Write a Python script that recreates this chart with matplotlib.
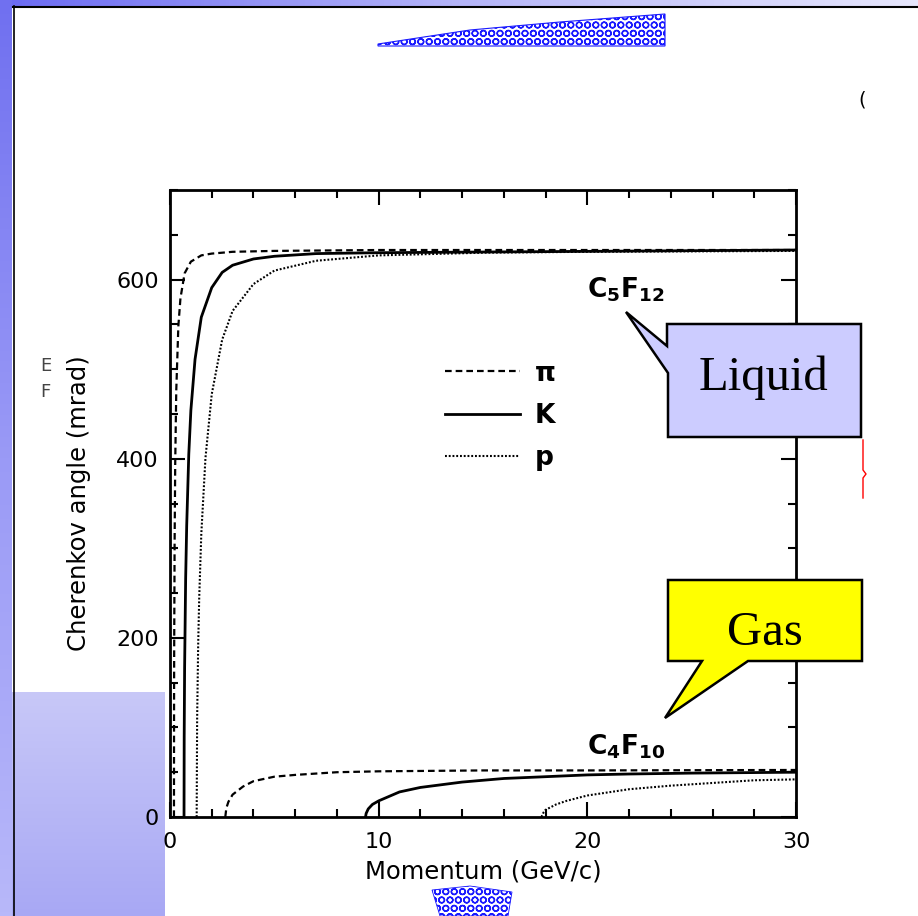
import numpy as np
import matplotlib
matplotlib.use("Agg")
import matplotlib.pyplot as plt
from matplotlib.patches import Polygon, Rectangle
from matplotlib.ticker import MultipleLocator

# ---- Cherenkov angle vs momentum (mrad), liquid C5F12 and gas C4F10 ----
pi_liq_p = [0.190, 0.195, 0.20, 0.22, 0.25, 0.30, 0.40, 0.50, 0.70, 1.0, 1.5, 2.0, 3.0, 5.0, 10, 30]
pi_liq_t = [0, 133, 185, 303, 395, 476, 548, 579, 607, 620, 627, 629, 631, 632, 633, 633]

k_liq_p = [0.672, 0.68, 0.70, 0.75, 0.80, 0.90, 1.0, 1.2, 1.5, 2.0, 2.5, 3.0, 4.0, 5.0, 7.0, 10, 30]
k_liq_t = [0, 89, 166, 266, 325, 405, 454, 511, 558, 591, 608, 616, 623, 626, 629, 630, 633]

p_liq_p = [1.278, 1.30, 1.35, 1.40, 1.50, 1.70, 2.0, 2.5, 3.0, 4.0, 5.0, 7.0, 10, 15, 20, 30]
p_liq_t = [0, 109, 192, 245, 316, 401, 472, 533, 565, 595, 610, 621, 627, 630, 631, 632]

pi_gas_p = [2.65, 2.70, 2.80, 3.0, 3.5, 4, 5, 6, 8, 10, 15, 20, 30]
pi_gas_t = [0, 10, 17, 25, 34, 40, 45, 47, 50, 51, 52, 52, 52.5]

k_gas_p = [9.37, 9.4, 9.5, 9.7, 10, 11, 12, 14, 16, 18, 20, 22, 25, 30]
k_gas_t = [0, 4, 9, 14, 18, 28, 33, 39, 43, 45, 47, 48, 49, 50]

p_gas_p = [17.8, 17.9, 18, 18.5, 19, 20, 22, 24, 26, 28, 30]
p_gas_t = [0, 5, 8, 14, 18, 24, 31, 35, 38, 41, 42]

particles = ["\u03c0", "K", "p"]
x_ticks = [0, 10, 20, 30]
y_ticks = [0, 200, 400, 600]

W, H = 918, 916
fig = plt.figure(figsize=(W / 100, H / 100), dpi=100)
fig.patch.set_facecolor("white")

# ---- slide background layer (pixel coordinates) ----
bg = fig.add_axes([0, 0, 1, 1], zorder=0)
bg.set_xlim(0, W)
bg.set_ylim(H, 0)
bg.axis("off")

# top band
top_grad = np.linspace(0, 1, 256).reshape(1, -1)
top_cmap = matplotlib.colors.LinearSegmentedColormap.from_list(
    "topband", ["#6a6af2", "#b4b4f8", "#e6e6fc"])
bg.imshow(top_grad, extent=(0, W, 6, 0), cmap=top_cmap, aspect="auto", zorder=1)
# lower-left lavender area
ll_grad = np.linspace(0, 1, 256).reshape(-1, 1)
ll_cmap = matplotlib.colors.LinearSegmentedColormap.from_list(
    "lowleft", ["#c8c8f8", "#a8a8f4"])
bg.imshow(ll_grad, extent=(0, 165, H, 692), cmap=ll_cmap, aspect="auto", zorder=1)
# left band
left_grad = np.linspace(0, 1, 256).reshape(-1, 1)
left_cmap = matplotlib.colors.LinearSegmentedColormap.from_list(
    "leftband", ["#7070f0", "#9a9af6", "#b8b8fa"])
bg.imshow(left_grad, extent=(0, 12, H, 0), cmap=left_cmap, aspect="auto", zorder=2)
bg.text(40, 366, "E", fontsize=13, color="#444444", ha="left", va="center", zorder=3)
bg.text(40, 392, "F", fontsize=13, color="#444444", ha="left", va="center", zorder=3)
# frame lines
bg.plot([13, W], [6.5, 6.5], color="black", lw=1.5, zorder=3)
bg.plot([13.5, 13.5], [6, H], color="black", lw=1.2, zorder=3)

# blue picture fragments
bg.add_patch(Polygon([(378, 44), (470, 30), (560, 22), (665, 14), (665, 46), (378, 46)],
                     closed=True, facecolor="white", edgecolor="#1a1aff", hatch="OO",
                     lw=0.8, zorder=2))
bg.add_patch(Polygon([(432, 890), (470, 886), (512, 892), (508, 916), (440, 916)],
                     closed=True, facecolor="white", edgecolor="#1a1aff", hatch="OO",
                     lw=0.6, zorder=2))
bg.text(862, 100, "(", fontsize=14, color="black", ha="center", va="center", zorder=3)
bg.plot([863, 863, 866, 863, 863], [440, 470, 474, 478, 498], color="red", lw=1.0, zorder=3)

# ---- main plot ----
ax_l = 170 / W
ax_b = (H - 817) / H
ax = fig.add_axes([ax_l, ax_b, (796 - 170) / W, (817 - 190) / H], zorder=1)
ax.set_facecolor("white")

dash_pi = (0, (3.0, 1.8))
dot_p = (0, (0.9, 0.9))
ax.plot(pi_liq_p, pi_liq_t, color="black", lw=1.6, ls=dash_pi, label=particles[0])
ax.plot(k_liq_p, k_liq_t, color="black", lw=2.0, ls="-", label=particles[1])
ax.plot(p_liq_p, p_liq_t, color="black", lw=1.5, ls=dot_p, label=particles[2])
ax.plot(pi_gas_p, pi_gas_t, color="black", lw=1.6, ls=dash_pi)
ax.plot(k_gas_p, k_gas_t, color="black", lw=2.0, ls="-")
ax.plot(p_gas_p, p_gas_t, color="black", lw=1.5, ls=dot_p)

ax.set_xlim(0, 30)
ax.set_ylim(0, 700)
ax.set_xticks(x_ticks)
ax.set_yticks(y_ticks)
ax.xaxis.set_minor_locator(MultipleLocator(2))
ax.yaxis.set_minor_locator(MultipleLocator(50))
ax.tick_params(which="both", direction="in", top=True, right=True, width=1.5, colors="black")
ax.tick_params(which="major", length=11, labelsize=16)
ax.tick_params(which="minor", length=6)
ax.tick_params(axis="x", which="major", pad=11)
ax.tick_params(axis="y", which="major", pad=8)
for s in ax.spines.values():
    s.set_linewidth(2.0)

ax.set_xlabel("Momentum (GeV/c)", fontsize=17.5, labelpad=5)
ax.set_ylabel("Cherenkov angle (mrad)", fontsize=17.5, labelpad=18)

leg = ax.legend(loc="upper left", bbox_to_anchor=(0.439, 0.728), frameon=False,
                prop={"size": 19, "weight": "bold"}, handlelength=2.85,
                handletextpad=0.55, labelspacing=0.62, borderaxespad=0, borderpad=0)

matplotlib.rcParams["mathtext.fontset"] = "dejavusans"
ax.text(20.0, 589, r"$\mathbf{C_5F_{12}}$", fontsize=19, ha="left", va="center")
ax.text(20.0, 78, r"$\mathbf{C_4F_{10}}$", fontsize=19, ha="left", va="center")

# ---- callouts on top ----
ov = fig.add_axes([0, 0, 1, 1], zorder=3)
ov.set_xlim(0, W)
ov.set_ylim(H, 0)
ov.axis("off")
ov.patch.set_alpha(0)

liquid = [(667, 324), (861, 324), (861, 437), (668, 437), (668, 373), (626, 312), (667, 346)]
ov.add_patch(Polygon(liquid, closed=True, facecolor="#ccccff", edgecolor="black", lw=1.8))
ov.text(764, 390, "Liquid", fontsize=35, family="Liberation Serif", ha="center",
        va="baseline", color="black")

gas = [(668, 580), (862, 580), (862, 661), (748, 661), (665, 718), (702, 661), (668, 661)]
ov.add_patch(Polygon(gas, closed=True, facecolor="#ffff00", edgecolor="black", lw=1.8))
ov.text(765, 645, "Gas", fontsize=35, family="Liberation Serif", ha="center",
        va="baseline", color="black")

fig.savefig("out.png", dpi=100)
